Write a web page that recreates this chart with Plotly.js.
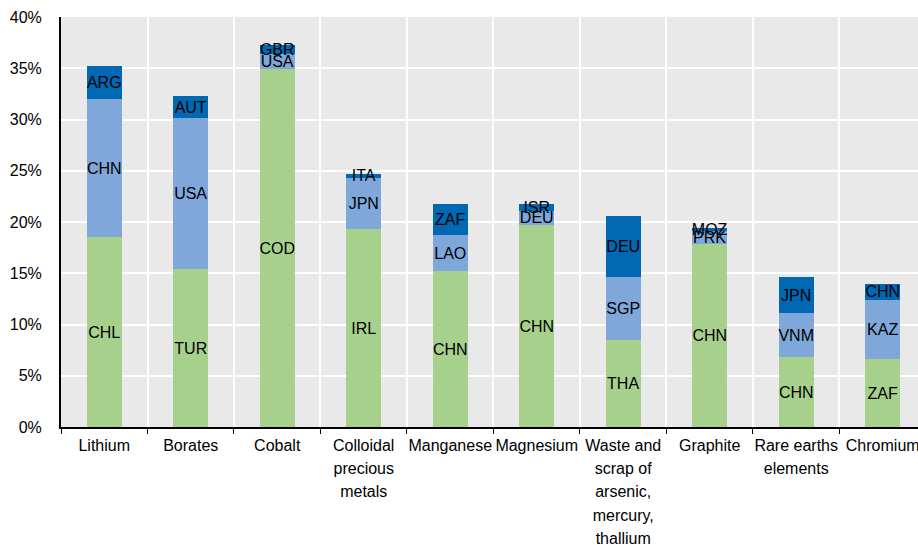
<!DOCTYPE html>
<html>
<head>
<meta charset="utf-8">
<script src="https://cdn.plot.ly/plotly-3.0.1.min.js"></script>
<style>
  body { margin: 0; background: #fff; }
  #plotArea { width: 918px; height: 545px; }
</style>
</head>
<body>
<div id="plotArea"></div>
<script>
// Categories (x axis)
var categories = [
  "Lithium",
  "Borates",
  "Cobalt",
  "Colloidal<br>precious<br>metals",
  "Manganese",
  "Magnesium",
  "Waste and<br>scrap of<br>arsenic,<br>mercury,<br>thallium",
  "Graphite",
  "Rare earths<br>elements",
  "Chromium",
];

// First supplier (share, %)
var firstValues = [18.5, 15.4, 34.9, 19.3, 15.2, 19.7, 8.5, 17.9, 6.8, 6.6];
var firstLabels = ["CHL", "TUR", "COD", "IRL", "CHN", "CHN", "THA", "CHN", "CHN", "ZAF"];

// Second supplier
var secondValues = [13.5, 14.7, 1.5, 5.0, 3.5, 1.4, 6.1, 1.2, 4.3, 5.8];
var secondLabels = ["CHN", "USA", "USA", "JPN", "LAO", "DEU", "SGP", "PRK", "VNM", "KAZ"];

// Third supplier
var thirdValues = [3.2, 2.2, 0.9, 0.4, 3.1, 0.7, 6.0, 0.3, 3.5, 1.6];
var thirdLabels = ["ARG", "AUT", "GBR", "ITA", "ZAF", "ISR", "DEU", "MOZ", "JPN", "CHN"];

var yTicks = [0, 5, 10, 15, 20, 25, 30, 35, 40];

var font = "Liberation Sans, Arial, sans-serif";

// wider line spacing for the wrapped labels: axis font 18, text drawn at 16
var xTickText = categories.map(function (c) {
  return c.split("<br>").map(function (line) {
    return '<span style="font-size:16px">' + line + "</span>";
  }).join("<br>");
});

function makeTrace(values, labels, color, name) {
  return {
    x: categories,
    y: values,
    text: labels,
    name: name,
    type: "bar",
    marker: { color: color },
    textposition: "inside",
    insidetextanchor: "middle",
    constraintext: "none",
    textangle: 0,
    textfont: { family: font, size: 16, color: "#000" },
    hoverinfo: "x+y+text",
  };
}

var data = [
  makeTrace(firstValues, firstLabels, "#a8d08d", "First"),
  makeTrace(secondValues, secondLabels, "#7fa7d9", "Second"),
  makeTrace(thirdValues, thirdLabels, "#0168b4", "Third"),
];

var layout = {
  width: 918,
  height: 545,
  barmode: "stack",
  bargap: 0.6,
  showlegend: false,
  font: { family: font, size: 16, color: "#000" },
  paper_bgcolor: "#ffffff",
  plot_bgcolor: "#e9e9e9",
  margin: { l: 61, r: 0, t: 17, b: 118 },
  xaxis: {
    type: "category",
    range: [-0.5, 9.408],
    tickmode: "array",
    tickvals: categories,
    ticktext: xTickText,
    tickson: "boundaries",
    ticks: "outside",
    ticklen: 5,
    tickcolor: "#000",
    tickangle: 0,
    showgrid: true,
    gridcolor: "#ffffff",
    gridwidth: 2,
    showline: true,
    linecolor: "#000",
    linewidth: 2,
    tickfont: { family: font, size: 18, color: "#000" },
    fixedrange: true,
  },
  yaxis: {
    range: [0, 40],
    tickvals: yTicks,
    ticktext: yTicks.map(function (v) { return v + "%"; }),
    ticks: "outside",
    ticklen: 14,
    tickcolor: "rgba(0,0,0,0)",
    showgrid: true,
    gridcolor: "#ffffff",
    gridwidth: 2,
    zeroline: false,
    showline: true,
    linecolor: "#000",
    linewidth: 2,
    tickfont: { family: font, size: 16, color: "#000" },
    fixedrange: true,
  },
};

Plotly.newPlot("plotArea", data, layout, { displayModeBar: false, staticPlot: true });
</script>
</body>
</html>
